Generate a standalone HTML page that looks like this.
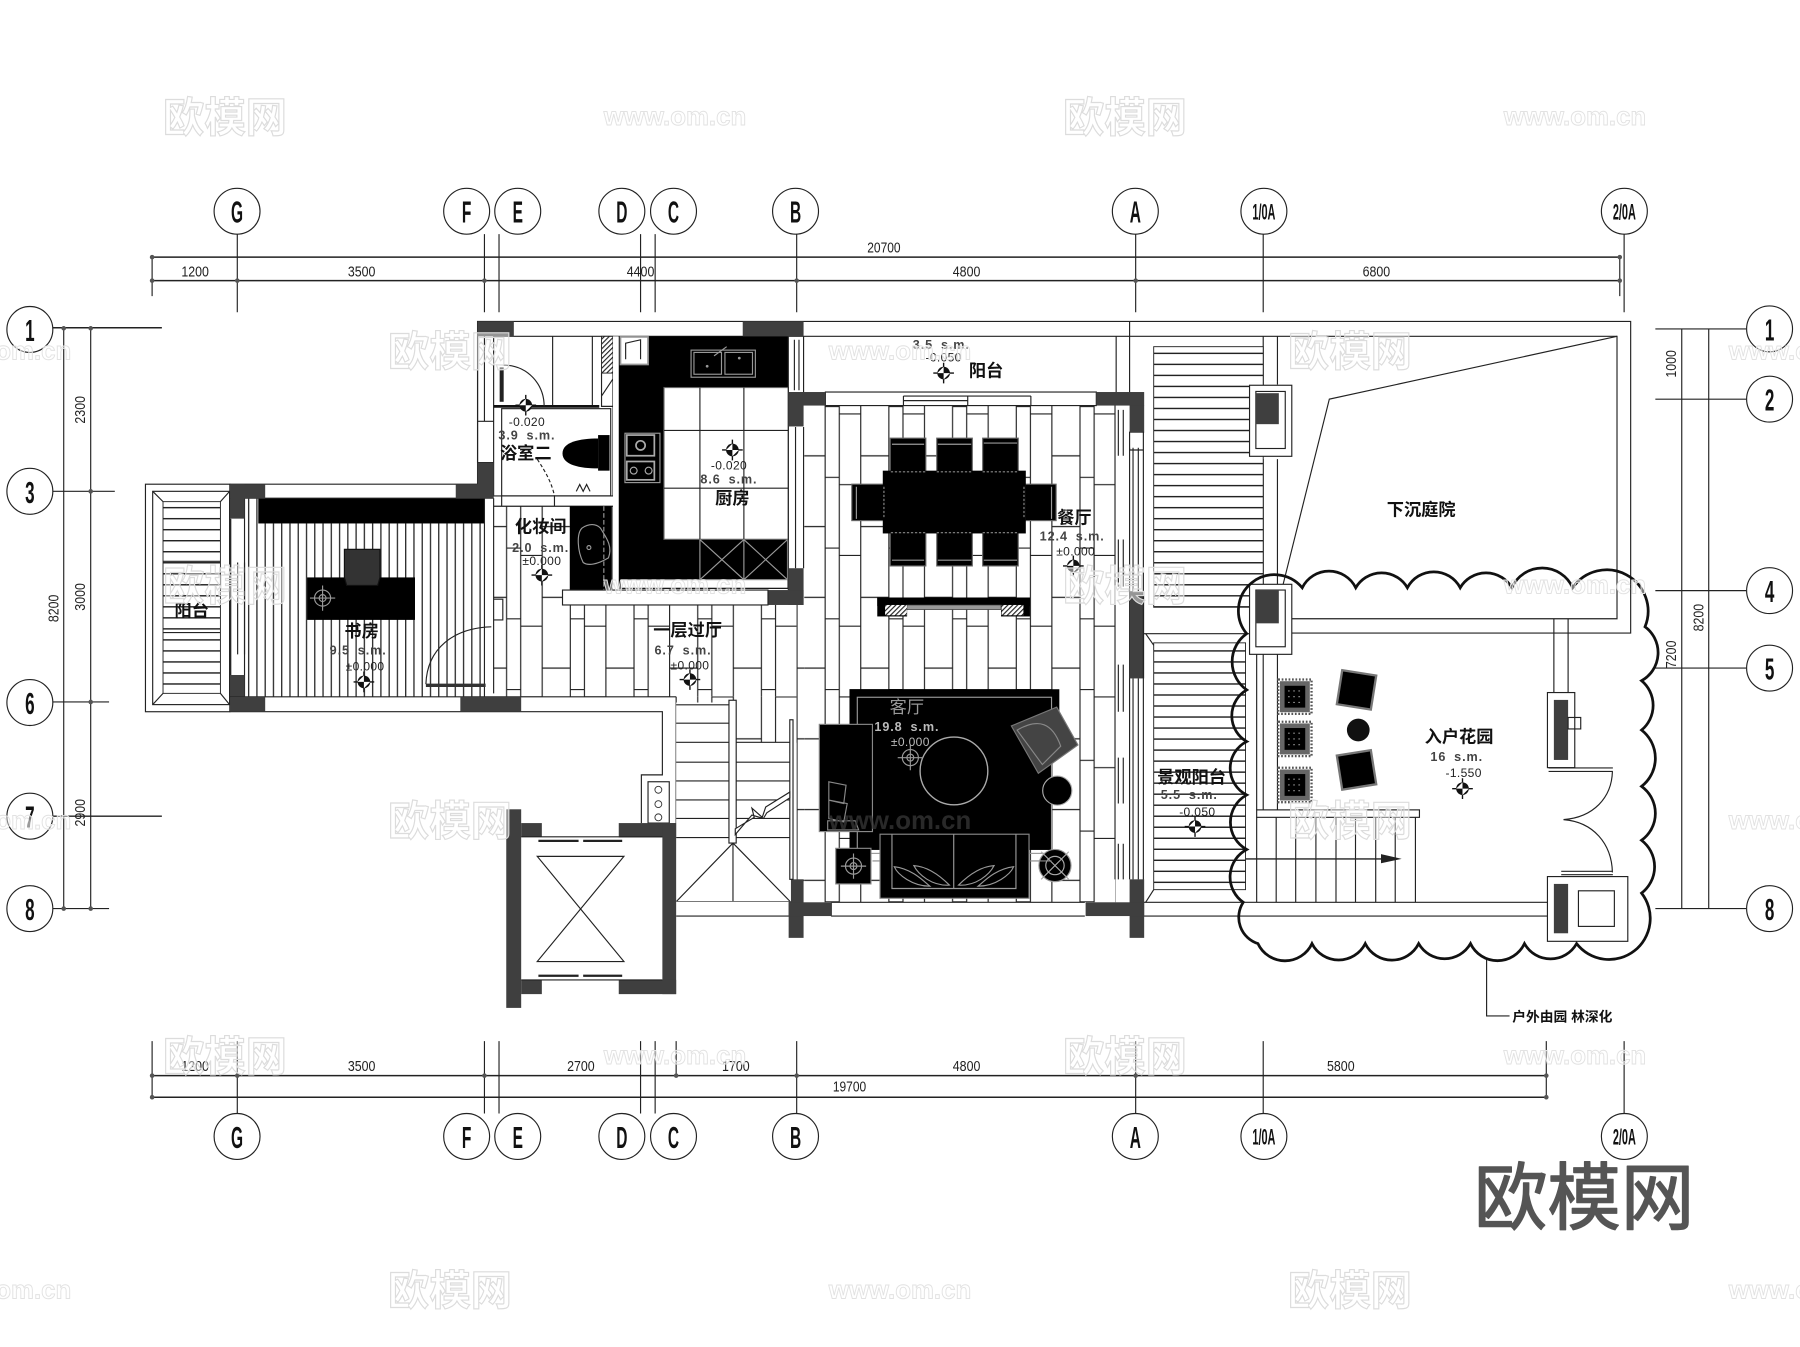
<!DOCTYPE html>
<html lang="zh">
<head>
<meta charset="utf-8">
<title>一层平面图</title>
<style>
html,body{margin:0;padding:0;background:#fff}
svg{display:block}
text{font-family:"Liberation Sans","Noto Sans CJK SC",sans-serif}
.l{fill:none;stroke:#222;stroke-width:1}
.t{fill:none;stroke:#333;stroke-width:.8}
.g{fill:none;stroke:#999;stroke-width:1}
.w{fill:#3f3f3f;stroke:none}
.k{fill:#000;stroke:none}
.ax{fill:#fff;stroke:#222;stroke-width:1}
.a{font-weight:700;font-size:27px;text-anchor:middle;fill:#111}
.a2{font-weight:700;font-size:19px;text-anchor:middle;fill:#111}
.d{font-size:12.5px;text-anchor:middle;fill:#222}
.c{font-weight:700;font-size:15px;text-anchor:middle;fill:#111}
.s{font-size:10.5px;text-anchor:middle;fill:#222;letter-spacing:.3px}
.sb{font-size:11px;font-weight:700;text-anchor:middle;fill:#444;letter-spacing:.8px;word-spacing:3px}
.wm{font-weight:700;font-size:36px;text-anchor:middle;fill:#fff;fill-opacity:.45;stroke:#dcdcdc;stroke-width:1}
.wu{font-weight:700;font-size:22.5px;text-anchor:middle;fill:#fff;fill-opacity:.45;stroke:#e2e2e2;stroke-width:.8}
</style>
</head>
<body>
<svg xmlns="http://www.w3.org/2000/svg" width="1800" height="1347" viewBox="0 0 1568 1173.4">
<defs>
<pattern id="hh" width="10" height="9.6" patternUnits="userSpaceOnUse"><rect width="10" height="9.6" fill="#fff"/><path d="M0 .6H10" stroke="#222" stroke-width="1.300"/></pattern>
<pattern id="hv" width="7.2" height="10" patternUnits="userSpaceOnUse"><rect width="7.2" height="10" fill="#fff"/><path d="M.6 0V10" stroke="#222" stroke-width="1.100"/></pattern>
<pattern id="hd" width="3" height="3" patternUnits="userSpaceOnUse" patternTransform="rotate(45)"><rect width="3" height="3" fill="#fff"/><path d="M.5 0V3" stroke="#222" stroke-width="1"/></pattern>
<pattern id="fl" x="471.8" y="353.7" width="55.5" height="61.63" patternUnits="userSpaceOnUse"><rect width="55.5" height="61.63" fill="#fff"/><path d="M.5 0V61.63M25 0V61.63M37.300 0V61.630M.5 43.400H25M25 .5H37.300M37.300 6.900H55.500" fill="none" stroke="#222" stroke-width="1"/></pattern>
<g id="m"><circle r="5.5" fill="#111"/><path d="M-9 0H9M0-9V9" stroke="#111" stroke-width="1.200"/><path d="M-5.500 0H0V-5.500M5.500 0H0V5.500" fill="#fff"/></g>
<g id="mg"><circle r="7" fill="none" stroke="#999"/><circle r="3" fill="none" stroke="#999"/><path d="M-11 0H11M0-11V11" stroke="#999"/></g>
<g id="orn"><rect x="-13" y="-13.500" width="26" height="27" fill="#666"/><rect x="-14.500" y="-15" width="29" height="30" fill="none" stroke="#555" stroke-width="2" stroke-dasharray="1.500 1.500"/><rect x="-9" y="-9.500" width="18" height="19" fill="#000"/><path d="M-6-5H6M-6 0H6M-6 5H6" stroke="#888" stroke-width="1" stroke-dasharray="1.500 3"/></g>
</defs>
<rect width="1568" height="1173.4" fill="#fff"/>

<!-- grid extension lines -->
<path class="l" d="M206.700 204V272M422 204V272M434.700 204V272M558 204V272M570.700 204V272M694 204V272M989.300 204V272M1100.400 204V272M1414.800 204V272"/>
<path class="l" d="M206.700 907V970M422 907V970M434.700 907V970M558 907V970M570.700 907V970M694 907V970M989.300 907V970M1100.400 907V970M1414.800 907V970"/>
<!-- top dims -->
<path d="M132 224H1411M132 244.500H1411" stroke="#222" stroke-width="1.300" fill="none"/>
<path class="l" d="M132.500 224V258M1411 224V258"/>
<g fill="#555"><circle cx="132.500" cy="224" r="2"/><circle cx="132.500" cy="244.500" r="2"/><circle cx="206.700" cy="244.500" r="2"/><circle cx="422" cy="244.500" r="2"/><circle cx="694" cy="244.500" r="2"/><circle cx="989.300" cy="244.500" r="2"/><circle cx="1411" cy="224" r="2"/><circle cx="1411" cy="244.500" r="2"/></g>
<text class="d" x="770" y="220" textLength="29" lengthAdjust="spacingAndGlyphs">20700</text>
<text class="d" x="170" y="241" textLength="24" lengthAdjust="spacingAndGlyphs">1200</text>
<text class="d" x="315" y="241" textLength="24" lengthAdjust="spacingAndGlyphs">3500</text>
<text class="d" x="558" y="241" textLength="24" lengthAdjust="spacingAndGlyphs">4400</text>
<text class="d" x="842" y="241" textLength="24" lengthAdjust="spacingAndGlyphs">4800</text>
<text class="d" x="1199" y="241" textLength="24" lengthAdjust="spacingAndGlyphs">6800</text>
<!-- bottom dims -->
<path d="M132 937H1347M132 955.800H1347" stroke="#222" stroke-width="1.300" fill="none"/>
<path class="l" d="M132.500 907V955.800M589 907V937M1347 907V955.800"/>
<g fill="#555"><circle cx="132.500" cy="937" r="2"/><circle cx="132.500" cy="955.800" r="2"/><circle cx="206.700" cy="937" r="2"/><circle cx="422" cy="937" r="2"/><circle cx="589" cy="937" r="2"/><circle cx="694" cy="937" r="2"/><circle cx="989.300" cy="937" r="2"/><circle cx="1347" cy="937" r="2"/><circle cx="1347" cy="955.800" r="2"/></g>
<text class="d" x="170" y="933" textLength="24" lengthAdjust="spacingAndGlyphs">1200</text>
<text class="d" x="315" y="933" textLength="24" lengthAdjust="spacingAndGlyphs">3500</text>
<text class="d" x="506" y="933" textLength="24" lengthAdjust="spacingAndGlyphs">2700</text>
<text class="d" x="641" y="933" textLength="24" lengthAdjust="spacingAndGlyphs">1700</text>
<text class="d" x="842" y="933" textLength="24" lengthAdjust="spacingAndGlyphs">4800</text>
<text class="d" x="1168" y="933" textLength="24" lengthAdjust="spacingAndGlyphs">5800</text>
<text class="d" x="740" y="951" textLength="29" lengthAdjust="spacingAndGlyphs">19700</text>

<!-- axis bubbles top -->
<g>
<circle class="ax" cx="206.500" cy="184" r="20"/><text class="a" transform="translate(206.500,194) scale(.5,1)">G</text>
<circle class="ax" cx="406.500" cy="184" r="20"/><text class="a" transform="translate(406.500,194) scale(.5,1)">F</text>
<circle class="ax" cx="451" cy="184" r="20"/><text class="a" transform="translate(451,194) scale(.5,1)">E</text>
<circle class="ax" cx="541.700" cy="184" r="20"/><text class="a" transform="translate(541.700,194) scale(.5,1)">D</text>
<circle class="ax" cx="586.700" cy="184" r="20"/><text class="a" transform="translate(586.700,194) scale(.5,1)">C</text>
<circle class="ax" cx="693" cy="184" r="20"/><text class="a" transform="translate(693,194) scale(.5,1)">B</text>
<circle class="ax" cx="989" cy="184" r="20"/><text class="a" transform="translate(989,194) scale(.5,1)">A</text>
<circle class="ax" cx="1101" cy="184" r="20"/><text class="a2" transform="translate(1101,191) scale(.5,1)">1/0A</text>
<circle class="ax" cx="1415" cy="184" r="20"/><text class="a2" transform="translate(1415,191) scale(.5,1)">2/0A</text>
</g>
<!-- axis bubbles bottom -->
<g>
<circle class="ax" cx="206.500" cy="990" r="20"/><text class="a" transform="translate(206.500,1000) scale(.5,1)">G</text>
<circle class="ax" cx="406.500" cy="990" r="20"/><text class="a" transform="translate(406.500,1000) scale(.5,1)">F</text>
<circle class="ax" cx="451" cy="990" r="20"/><text class="a" transform="translate(451,1000) scale(.5,1)">E</text>
<circle class="ax" cx="541.700" cy="990" r="20"/><text class="a" transform="translate(541.700,1000) scale(.5,1)">D</text>
<circle class="ax" cx="586.700" cy="990" r="20"/><text class="a" transform="translate(586.700,1000) scale(.5,1)">C</text>
<circle class="ax" cx="693" cy="990" r="20"/><text class="a" transform="translate(693,1000) scale(.5,1)">B</text>
<circle class="ax" cx="989" cy="990" r="20"/><text class="a" transform="translate(989,1000) scale(.5,1)">A</text>
<circle class="ax" cx="1101" cy="990" r="20"/><text class="a2" transform="translate(1101,997) scale(.5,1)">1/0A</text>
<circle class="ax" cx="1415" cy="990" r="20"/><text class="a2" transform="translate(1415,997) scale(.5,1)">2/0A</text>
</g>
<!-- left dims -->
<path class="l" d="M55.500 286V791.500M79 286V791.500M46 428H100M46 611.500H95M46 791.500H95"/>
<path d="M46 285.500H141M46 711H141" stroke="#222" stroke-width="1.300" fill="none"/>
<g fill="#555"><circle cx="55.500" cy="286" r="2"/><circle cx="79" cy="286" r="2"/><circle cx="79" cy="428" r="2"/><circle cx="79" cy="611.500" r="2"/><circle cx="55.500" cy="791.500" r="2"/><circle cx="79" cy="791.500" r="2"/></g>
<text class="d" transform="translate(74,357) rotate(-90)" textLength="24" lengthAdjust="spacingAndGlyphs">2300</text>
<text class="d" transform="translate(74,520) rotate(-90)" textLength="24" lengthAdjust="spacingAndGlyphs">3000</text>
<text class="d" transform="translate(51,530) rotate(-90)" textLength="24" lengthAdjust="spacingAndGlyphs">8200</text>
<text class="d" transform="translate(74,708) rotate(-90)" textLength="24" lengthAdjust="spacingAndGlyphs">2900</text>
<g>
<circle class="ax" cx="26" cy="287" r="20"/><text class="a" transform="translate(26,297) scale(.55,1)">1</text>
<circle class="ax" cx="26" cy="428" r="20"/><text class="a" transform="translate(26,438) scale(.55,1)">3</text>
<circle class="ax" cx="26" cy="612" r="20"/><text class="a" transform="translate(26,622) scale(.55,1)">6</text>
<circle class="ax" cx="26" cy="711" r="20"/><text class="a" transform="translate(26,721) scale(.55,1)">7</text>
<circle class="ax" cx="26" cy="791.500" r="20"/><text class="a" transform="translate(26,801.500) scale(.55,1)">8</text>
</g>
<!-- right dims -->
<path class="l" d="M1465 286V791.500M1488.500 286V791.500M1442 286.500H1521M1442 347.700H1521M1442 514.500H1521M1442 582H1521M1442 791.500H1521"/>
<text class="d" transform="translate(1460,317) rotate(-90)" textLength="24" lengthAdjust="spacingAndGlyphs">1000</text>
<text class="d" transform="translate(1460,570) rotate(-90)" textLength="24" lengthAdjust="spacingAndGlyphs">7200</text>
<text class="d" transform="translate(1484,538) rotate(-90)" textLength="24" lengthAdjust="spacingAndGlyphs">8200</text>
<g>
<circle class="ax" cx="1541.500" cy="286.500" r="20"/><text class="a" transform="translate(1541.500,296.500) scale(.55,1)">1</text>
<circle class="ax" cx="1541.500" cy="347.700" r="20"/><text class="a" transform="translate(1541.500,357.700) scale(.55,1)">2</text>
<circle class="ax" cx="1541.500" cy="514.500" r="20"/><text class="a" transform="translate(1541.500,524.500) scale(.55,1)">4</text>
<circle class="ax" cx="1541.500" cy="582" r="20"/><text class="a" transform="translate(1541.500,592) scale(.55,1)">5</text>
<circle class="ax" cx="1541.500" cy="791.500" r="20"/><text class="a" transform="translate(1541.500,801.500) scale(.55,1)">8</text>
</g>

<!-- outer shells -->
<path class="l" d="M416 421.800V280H1420.500V551.500H1100M430 293H1408.600V539H1113"/>
<path class="l" d="M984 280V342M972.300 293V342M1100.400 293V340M1112.800 293V335M1100.400 400V509M1112.800 400V509"/>
<!-- sunken court -->
<path class="l" d="M1408.600 293L1158 347.700L1117 512"/>
<!-- garden hatch -->
<rect x="1005" y="302" width="95.400" height="227" fill="url(#hh)" stroke="#222" stroke-width=".8"/>
<rect x="1005" y="560" width="80" height="215" fill="url(#hh)" stroke="#222" stroke-width=".8"/>
<path class="l" d="M996 552H1100M998 552L1005 562M1005 775L998 786"/>
<path class="l" d="M1094.700 552V705.500M1100.400 570V705.500M1112.800 570V705.500"/>
<!-- balcony left -->
<rect class="l" x="126.700" y="421.800" width="73.500" height="198.200" fill="#fff"/>
<rect class="l" x="133" y="428" width="67" height="185.800"/>
<rect x="142" y="437" width="50" height="167" fill="url(#hh)" stroke="#222" stroke-width=".8"/>
<path class="l" d="M133 428L142 437M200 428L192 437M133 613.800L142 604M200 613.800L192 604M142 489H192M142 551H192"/>
<!-- study -->
<rect x="225" y="456" width="197" height="151" fill="url(#hv)"/>
<rect x="213" y="434" width="12" height="173" fill="url(#hv)"/>
<rect class="k" x="225" y="434" width="197" height="22"/>
<path class="l" d="M200 421.800H416M200 434H430M422 434V607M213 434V607"/>
<path class="l" d="M201 452V588M207 490V570M213 490V570"/>
<rect class="w" x="200.500" y="421.800" width="30.500" height="12.500"/>
<rect class="w" x="397" y="421.800" width="33" height="12.500"/>
<rect class="w" x="200.500" y="421.800" width="12.500" height="30"/>
<rect class="w" x="200.500" y="588" width="12.500" height="32"/>
<!-- floors -->
<rect x="430" y="441" width="66.500" height="166" fill="url(#fl)"/>
<rect x="496.500" y="527" width="197.500" height="80" fill="url(#fl)"/>
<rect x="589" y="607" width="105" height="40" fill="url(#fl)"/>
<rect x="700.600" y="353" width="271" height="433" fill="url(#fl)"/>
<rect x="694" y="527" width="6.600" height="259" fill="url(#fl)"/>
<!-- study bottom wall and hall -->
<path class="l" d="M200 607H589M200 620H577V675H558.700V717M589 607V717"/>
<rect class="w" x="200.500" y="607" width="30.500" height="13"/>
<rect class="w" x="401" y="607" width="53" height="13"/>
<!-- study desk -->
<rect class="k" x="267.500" y="503" width="94" height="37"/>
<path d="M300 478.500H331V503L329 510H302L300 503Z" fill="#333" stroke="#111"/>
<use href="#mg" x="281" y="521"/>
<path class="l" d="M371 596C372 565 395 547 428 546" stroke-width="1"/>
<path d="M371 597H423" stroke="#333" stroke-width="3"/>
<path class="l" d="M430 434V604M430 540H438V522H430"/>
<!-- bath -->
<path class="l" d="M430 293V432H534V293M481.400 293V354M516 293V354M430 441H534M534 441V514M437 432V441M483 432V441"/>
<rect x="524" y="293" width="10" height="32" fill="url(#hd)" stroke="#222" stroke-width=".8"/>
<path class="l" d="M524 325V354H534V325M524 345L534 330"/>
<path d="M430 354H522" stroke="#111" stroke-width="2.500"/>
<path class="l" d="M438 318C460 318 474 335 474 354"/>
<path d="M437 320V350" stroke="#222" stroke-width="3.500"/>
<path class="l" d="M416 293V367H430M422 293V367M416 367V403H430"/>
<rect class="w" x="416" y="280" width="31.600" height="13"/>
<rect class="w" x="416" y="403" width="14" height="31"/>
<rect class="l" x="437" y="356" width="95" height="76"/>
<path class="k" d="M490 395C490 385 505 382 521 382V408C505 408 490 405 490 395Z"/>
<rect class="k" x="521" y="379" width="10" height="31"/>
<path class="l" d="M468 400C476 412 481 422 483 432" stroke-dasharray="3 2"/>
<path class="l" d="M502 428l3-6 3 6 3-6 3 6" stroke-width="1"/>
<!-- vanity -->
<rect class="k" x="496.500" y="441" width="36.500" height="73"/>
<path class="g" d="M523 460C528 468 534 476 530 486C520 492 512 493 508 490C503 480 502 465 507 460C513 456 519 456 523 460Z"/>
<circle cx="513" cy="477" r="1.700" fill="none" stroke="#999"/>
<path d="M526 441V514" stroke="#999" stroke-dasharray="4 2"/>
<!-- kitchen -->
<rect x="534" y="293" width="5" height="221" fill="#fff"/>
<rect class="k" x="539" y="293" width="147.700" height="220"/>
<rect x="541" y="505" width="145" height="7" fill="#fff"/>
<rect x="578.400" y="337.600" width="108.300" height="132.200" fill="#fff" stroke="#666"/>
<path d="M609.700 337.600V469.800M648 337.600V469.800M578.400 375H686.700M578.400 425.300H686.700" stroke="#222" stroke-width="1"/>
<rect x="540.500" y="293.500" width="24" height="24" fill="#fff" stroke="#999" stroke-width="1.500"/>
<path class="l" d="M545 313V299L558 296V313"/>
<rect class="g" x="602" y="305" width="56" height="23.600"/>
<rect class="g" x="604.500" y="307" width="24" height="19"/>
<rect class="g" x="631.500" y="307" width="24" height="19"/>
<circle cx="616" cy="319" r="1.200" fill="#999"/><circle cx="644" cy="312" r="1.200" fill="#999"/>
<path class="g" d="M622 310L633 302"/>
<rect class="g" x="544.400" y="377.400" width="30.500" height="43"/>
<rect x="546" y="379" width="24" height="18" fill="none" stroke="#aaa" stroke-width="1.500"/>
<rect x="546" y="402" width="24" height="16" fill="none" stroke="#aaa" stroke-width="1.500"/>
<circle cx="558" cy="388" r="4" fill="none" stroke="#aaa" stroke-width="1.500"/>
<circle cx="552" cy="410" r="3" fill="none" stroke="#aaa"/><circle cx="565" cy="410" r="3" fill="none" stroke="#aaa"/>
<path class="g" d="M609.700 470V505M648 470V505M686 470V505M609.700 470L648 505M648 470L609.700 505M648 470L686 505M686 470L648 505M541 505H686"/>
<!-- kitchen right side -->
<path class="l" d="M686.700 293V514M700 293V342M692 296V340M696 296V340M700 372V495M693 372V495"/>
<rect class="w" x="647" y="280" width="53" height="13"/>
<rect class="w" x="686.700" y="341.500" width="13.300" height="30"/>
<rect class="w" x="686.700" y="495" width="13.300" height="32"/>
<rect class="w" x="669" y="514" width="31" height="13"/>
<rect x="490" y="514" width="179" height="13" fill="#fff" stroke="#222"/>
<!-- right of living -->
<path class="l" d="M971.300 353V766M984 390V766M987 390V515M991.600 390V515M987 591V766M991.600 591V766M974.200 357V397M978.500 357V397M974.200 470V511M978.500 470V511M974.200 579V620M978.500 579V620M974.200 660V700M978.500 660V700M974.200 735V766M978.500 735V766"/>
<!-- top wall of living -->
<rect x="719" y="341.500" width="236" height="11.800" fill="#fff" stroke="#222"/>
<path class="l" d="M787 345H898M787 349H843M843 345V353M898 345V353M787 345V353"/>
<rect class="w" x="687" y="341.500" width="32" height="11.800"/>
<rect class="w" x="955" y="341.500" width="41.700" height="11.800"/>
<rect class="w" x="984" y="353" width="12.700" height="24"/>
<rect class="w" x="984" y="515" width="12.700" height="76"/>
<path class="l" d="M996 376V786M984 376V392H996"/>
<!-- bottom wall of living -->
<path class="l" d="M589 785H690M589 798H690M724 786H945M724 798H945M996 786H1350M996 798H1350"/>
<rect class="w" x="687" y="766" width="13" height="51"/>
<rect class="w" x="687" y="786" width="37.700" height="12"/>
<rect class="w" x="984" y="766" width="12.700" height="51"/>
<rect class="w" x="945.700" y="786" width="51" height="12"/>
<!-- dining -->
<g fill="#000" stroke="#666">
<rect x="775.500" y="381.700" width="31" height="30"/><rect x="816" y="381.700" width="31" height="30"/><rect x="856" y="381.700" width="31" height="30"/>
<rect x="775.500" y="464" width="31" height="29"/><rect x="816" y="464" width="31" height="29"/><rect x="856" y="464" width="31" height="29"/>
<rect x="742" y="421.800" width="28" height="31.700"/><rect x="893" y="421.800" width="27" height="31.700"/>
</g>
<rect class="k" x="769" y="410" width="124.600" height="54.700"/>
<path d="M776 411H806M816 411H847M856 411H887M776 464H806M816 464H847M856 464H887M770 424V452M892 424V452" stroke="#888" stroke-width="1" stroke-dasharray="2 1.500" fill="none"/>
<path d="M777 387H805M817 387H846M857 386H886M777 488H805M817 488H846M857 488H886M746 424V452M916 424V452" stroke="#999" stroke-width="1" fill="none"/>
<rect class="k" x="764.200" y="520.500" width="133" height="7.500"/>
<rect class="k" x="764.200" y="520.500" width="26" height="16.500"/>
<rect class="k" x="872" y="520.500" width="25.200" height="16.500"/>
<rect x="790" y="527" width="82" height="4" fill="#999" stroke="#333" stroke-width=".6"/>
<rect x="771" y="527" width="19" height="9" fill="url(#hd)"/>
<rect x="872.500" y="527" width="19" height="9" fill="url(#hd)"/>
<!-- living -->
<rect class="k" x="740" y="600.400" width="182.800" height="20"/>
<rect class="k" x="740" y="600.400" width="176" height="140"/>
<rect class="g" x="746.800" y="607.400" width="169.200" height="136"/>
<rect x="713.700" y="631" width="46.300" height="93.400" fill="#000" stroke="#888"/>
<path d="M722 681L737 684L735 700L722 697ZM722 697L738 700L735 716L722 713ZM721 715H745L748 723H721Z" fill="none" stroke="#888"/>
<rect x="728" y="739" width="30.700" height="31" fill="#000" stroke="#888"/>
<use href="#mg" x="743.500" y="754.500"/>
<rect x="766.600" y="726.700" width="129.800" height="55.800" fill="#000" stroke="#888"/>
<path class="g" d="M777 726.700V774H885V726.700M830.800 726.700V774"/>
<path class="g" d="M779 755C795 757 805 768 810 772C795 772 782 762 779 755ZM796 754C810 755 822 766 827 771C812 772 800 762 796 754ZM883 755C867 757 857 768 852 772C867 772 880 762 883 755ZM866 754C852 755 840 766 835 771C850 772 862 762 866 754Z"/>
<circle cx="831" cy="671.600" r="29.500" fill="none" stroke="#aaa" stroke-width="1.200"/>
<path d="M881 632.400L920.500 616L939 649L904.500 673.600Z" fill="#444" stroke="#777"/>
<path d="M886 636C905 625 917 630 924 650L908 666Z" fill="none" stroke="#888"/>
<circle cx="921" cy="688.700" r="12.700" fill="#000" stroke="#aaa"/>
<circle cx="919" cy="754" r="14" fill="#000" stroke="#999"/>
<path d="M907 742L931 766M931 742L907 766" stroke="#aaa"/>
<circle cx="919" cy="754" r="8" fill="none" stroke="#aaa"/>
<path d="M896 750H916M760 750H767" fill="none" stroke="#888"/>
<!-- stairs -->
<rect x="589" y="612" width="47" height="173" fill="#fff"/>
<rect x="636" y="647" width="53" height="138" fill="#fff"/>
<path class="l" d="M589 614H635M589 630H635M589 646.600H635M589 664H635M589 680.300H635M589 696.800H635M589 713H635M589 729.600H635M641.300 646.600H688M641.300 664H688M641.300 680.300H688M641.300 696.800H688M641.300 713H688M641.300 729.600H688"/>
<rect x="635" y="610" width="6.300" height="124.400" fill="#fff" stroke="#222"/>
<rect x="688" y="627" width="2.800" height="139" fill="#fff" stroke="#222"/>
<path class="l" d="M638.500 734.400L589.500 785M638.500 734.400L688 785M638.500 734.400V785"/>
<path d="M640.500 722L657 712L655 704L664 712L667 703L688 690V695L668 708L665 713L655 710L640.500 727Z" fill="#fff" stroke="#222"/>
<!-- control panel -->
<rect class="l" x="564.500" y="681" width="18.500" height="36"/>
<circle class="t" cx="573.500" cy="688" r="3"/><circle class="t" cx="573.500" cy="700.500" r="3"/><circle class="t" cx="573.500" cy="712" r="3"/>
<!-- elevator -->
<rect class="w" x="441" y="705" width="13" height="173"/>
<rect class="w" x="454" y="717" width="18" height="12"/>
<rect class="w" x="539" y="717" width="50" height="12.500"/>
<rect class="w" x="577" y="717" width="12" height="149"/>
<rect class="w" x="454" y="853.600" width="18" height="12.400"/>
<rect class="w" x="539" y="853.600" width="50" height="12.400"/>
<path d="M469 732.500H504M508 732.500H542M469 850H504M508 850H542" stroke="#222" stroke-width="2"/>
<path class="l" d="M468 746H543.500L468 837.600H543.500ZM454 729H577M454 853.600H577"/>
<!-- planter boxes -->
<rect x="1088.500" y="335.600" width="36.800" height="61.900" fill="#fff" stroke="#222"/>
<rect x="1094" y="341" width="25.600" height="49.700" fill="#fff" stroke="#222"/>
<rect class="w" x="1094" y="342.500" width="20" height="27"/>
<rect x="1088.500" y="509" width="36.800" height="61" fill="#fff" stroke="#222"/>
<rect x="1094" y="514" width="25.600" height="49.400" fill="#fff" stroke="#222"/>
<rect class="w" x="1094" y="514.500" width="20" height="28.500"/>
<!-- garden -->
<path class="l" d="M1353.600 539V604M1366 539V604"/>
<rect x="1348" y="603.300" width="23.800" height="65.400" fill="#fff" stroke="#222"/>
<rect class="w" x="1353.600" y="609.700" width="12.400" height="52.300"/>
<rect class="l" x="1366" y="625" width="11" height="10" fill="#fff"/>
<path class="l" d="M1349 669H1405M1349 672H1405M1404.600 672C1404 695 1388 712 1362 714C1388 716 1404 735 1404.600 760M1360 759H1405M1360 762H1405"/>
<rect x="1348" y="763.600" width="70" height="56.400" fill="#fff" stroke="#222"/>
<rect class="l" x="1375" y="776" width="31.300" height="31"/>
<rect class="w" x="1353.600" y="770" width="12.400" height="43"/>
<rect x="1094.700" y="705.500" width="141.800" height="6.500" fill="#fff" stroke="#222"/>
<path class="l" d="M1094.700 712V786M1111.700 712V786M1128.700 712V786M1146.300 712V786M1163.800 712V786M1180.800 712V786M1198.400 712V786M1215.400 712V786M1233 712V786"/>
<path d="M1085 748.200H1206" stroke="#222" stroke-width="1.200"/>
<path d="M1203 744L1221 748.200L1203 752Z" fill="#222"/>
<use href="#orn" x="1128" y="606.900"/><use href="#orn" x="1128" y="643.700"/><use href="#orn" x="1128" y="683.800"/>
<rect x="1166.700" y="586" width="30" height="30" fill="#000" stroke="#777" stroke-width="2" transform="rotate(9 1181.700 601)"/>
<rect x="1166.700" y="655.700" width="30" height="30" fill="#000" stroke="#777" stroke-width="2" transform="rotate(-9 1181.700 670.700)"/>
<circle cx="1183.200" cy="635.900" r="9.900" fill="#111"/>
<!-- cloud -->
<path d="M1086 552A31 31 0 0 1 1134.400 512A26 26 0 0 1 1181 512A26 26 0 0 1 1226 512A26 26 0 0 1 1272 512A26 26 0 0 1 1317 512A29 29 0 0 1 1370 512A36 36 0 0 1 1433 546A28 28 0 0 1 1430 593A28 28 0 0 1 1430 636A31 31 0 0 1 1430 685A29 29 0 0 1 1430 732A29 29 0 0 1 1430 778A33 33 0 0 1 1373.400 822A26 26 0 0 1 1328 822A26 26 0 0 1 1281 822A26 26 0 0 1 1235.800 822A26 26 0 0 1 1189.300 822A26 26 0 0 1 1142.900 822A26 26 0 0 1 1095.800 822A24 24 0 0 1 1083 786A27 27 0 0 1 1086 740A27 27 0 0 1 1086 692.500A26 26 0 0 1 1086 646A26 26 0 0 1 1086 601A30 30 0 0 1 1086 552Z" fill="none" stroke="#111" stroke-width="2.400"/>
<path class="l" d="M1295 836V885H1315"/>
<text class="c" style="font-size:12px" x="1361" y="890">户外由园 林深化</text>

<!-- marks -->
<use href="#m" x="822" y="325"/><use href="#m" x="458" y="353"/><use href="#m" x="638" y="392"/><use href="#m" x="472" y="501"/><use href="#m" x="935" y="493"/><use href="#m" x="317" y="594"/><use href="#m" x="601" y="592"/><use href="#m" x="1041" y="720"/><use href="#m" x="1274" y="687"/>
<use href="#mg" x="793" y="660"/>

<!-- labels -->
<text class="sb" x="820" y="304">3.5 s.m.</text><text class="s" x="822" y="315">-0.050</text><text class="c" x="859" y="328">阳台</text>
<text class="c" x="1238" y="449">下沉庭院</text>
<text class="c" x="936" y="456">餐厅</text><text class="sb" x="934" y="471">12.4 s.m.</text><text class="s" x="937" y="484">±0.000</text>
<text class="s" x="635" y="409">-0.020</text><text class="sb" x="635" y="421">8.6 s.m.</text><text class="c" x="638" y="439">厨房</text>
<text class="s" x="459" y="371">-0.020</text><text class="sb" x="459" y="383">3.9 s.m.</text><text class="c" x="458" y="400">浴室二</text>
<text class="c" x="471" y="464">化妆间</text><text class="sb" x="471" y="481">2.0 s.m.</text><text class="s" x="472" y="492">±0.000</text>
<text class="c" x="315" y="555">书房</text><text class="sb" x="312" y="570">9.5 s.m.</text><text class="s" x="318" y="584">±0.000</text>
<text class="c" x="167" y="537">阳台</text>
<text class="c" x="599" y="554">一层过厅</text><text class="sb" x="595" y="570">6.7 s.m.</text><text class="s" x="601" y="583">±0.000</text>
<text class="c" x="790" y="621" style="fill:#999;font-weight:400">客厅</text><text class="sb" x="790" y="637" style="fill:#bbb">19.8 s.m.</text><text class="s" x="793" y="650" style="fill:#bbb">±0.000</text>
<text class="c" x="1038" y="682">景观阳台</text><text class="sb" x="1036" y="696">5.5 s.m.</text><text class="s" x="1043" y="711">-0.050</text>
<text class="c" x="1271" y="647">入户花园</text><text class="sb" x="1269" y="663">16  s.m.</text><text class="s" x="1275" y="677">-1.550</text>

<!-- watermarks -->
<g>
<text class="wm" x="196" y="115">欧模网</text><text class="wm" x="980" y="115">欧模网</text><text class="wu" x="588" y="109">www.om.cn</text><text class="wu" x="1372" y="109">www.om.cn</text>
<text class="wm" x="392" y="319">欧模网</text><text class="wm" x="1176" y="319">欧模网</text><text class="wu" x="784" y="313">www.om.cn</text><text class="wu" x="1568" y="313">www.om.cn</text><text class="wu" x="0" y="313">www.om.cn</text>
<text class="wm" x="196" y="523">欧模网</text><text class="wm" x="980" y="523">欧模网</text><text class="wu" x="588" y="517">www.om.cn</text><text class="wu" x="1372" y="517">www.om.cn</text>
<text class="wm" x="1176" y="728">欧模网</text><text class="wm" x="392" y="728">欧模网</text><text class="wu" x="784" y="722" style="fill:#333;fill-opacity:.8;stroke:none">www.om.cn</text><text class="wu" x="1568" y="722">www.om.cn</text><text class="wu" x="0" y="722">www.om.cn</text>
<text class="wm" x="196" y="933">欧模网</text><text class="wm" x="980" y="933">欧模网</text><text class="wu" x="588" y="927">www.om.cn</text><text class="wu" x="1372" y="927">www.om.cn</text>
<text class="wm" x="392" y="1137">欧模网</text><text class="wm" x="1176" y="1137">欧模网</text><text class="wu" x="784" y="1131">www.om.cn</text><text class="wu" x="1568" y="1131">www.om.cn</text><text class="wu" x="0" y="1131">www.om.cn</text>
</g>
<text x="1380" y="1066" text-anchor="middle" font-size="64" fill="#555" stroke="#555" stroke-width="1.200" stroke-linejoin="round" style="font-weight:400">欧模网</text>
</svg>
</body>
</html>
